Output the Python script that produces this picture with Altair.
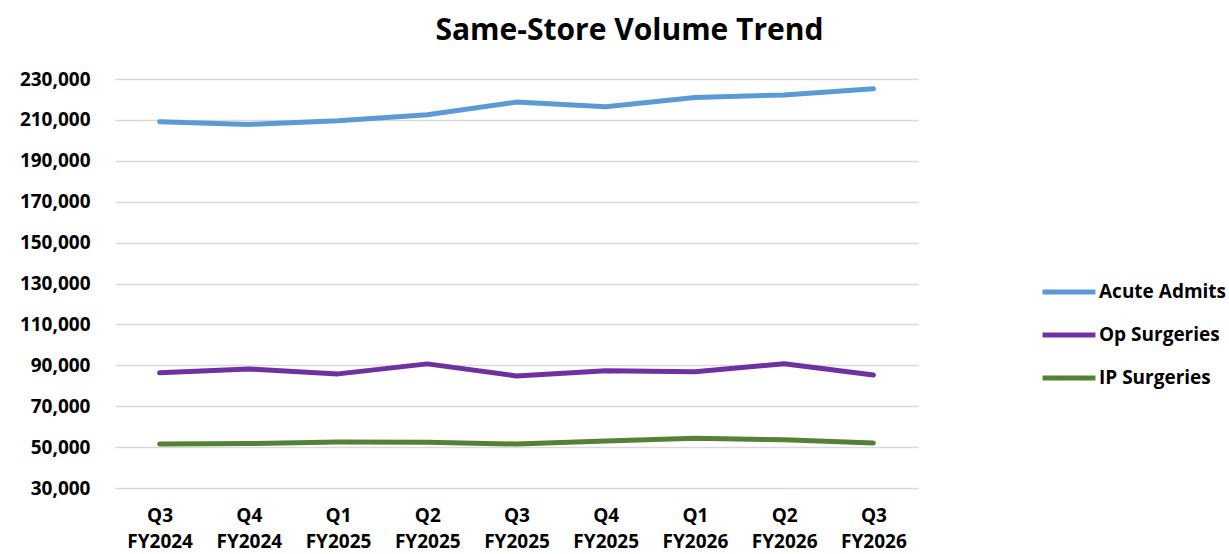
import altair as alt
import pandas as pd

quarters = ["Q3\nFY2024", "Q4\nFY2024", "Q1\nFY2025", "Q2\nFY2025", "Q3\nFY2025",
            "Q4\nFY2025", "Q1\nFY2026", "Q2\nFY2026", "Q3\nFY2026"]
acute_admits = [209100, 207800, 209600, 212500, 218700, 216400, 220900, 222200, 225200]
op_surgeries = [86300, 88200, 85800, 90700, 84800, 87300, 86800, 90800, 85300]
ip_surgeries = [51500, 51700, 52500, 52400, 51500, 53000, 54300, 53600, 52000]
series_names = ["Acute Admits", "Op Surgeries", "IP Surgeries"]
series_colors = ["#5B9BD5", "#7030A0", "#548235"]
y_ticks = [30000, 50000, 70000, 90000, 110000, 130000, 150000, 170000, 190000, 210000, 230000]

rows = []
for name, vals in zip(series_names, [acute_admits, op_surgeries, ip_surgeries]):
    for q, v in zip(quarters, vals):
        rows.append({"Quarter": q, "Series": name, "Value": v})
df = pd.DataFrame(rows)

FONT = "Open Sans"

chart = alt.Chart(df).mark_line(strokeWidth=5, strokeCap="round", strokeJoin="round").encode(
    x=alt.X("Quarter:N", sort=quarters, title=None,
            scale=alt.Scale(type="point", padding=0.5),
            axis=alt.Axis(labelAngle=0, labelExpr="split(datum.label, '\\n')",
                          labelFontSize=19, labelFontWeight="bold", labelFont=FONT,
                          labelColor="#000000", labelPadding=18, labelLineHeight=26,
                          domain=False, ticks=False, grid=False, labelBaseline="top")),
    y=alt.Y("Value:Q", title=None,
            scale=alt.Scale(domain=[30000, 230000], nice=False, zero=False),
            axis=alt.Axis(values=y_ticks, format=",d", labelFontSize=19,
                          labelFontWeight="bold", labelFont=FONT, labelColor="#000000",
                          labelPadding=25, domain=False, ticks=False,
                          gridColor="#d9d9d9", gridWidth=1.5)),
    color=alt.Color("Series:N", sort=series_names,
                    scale=alt.Scale(domain=series_names, range=series_colors),
                    legend=alt.Legend(title=None, orient="none", legendX=925, legendY=184,
                                      symbolType="stroke", symbolSize=2800,
                                      symbolStrokeWidth=5, labelFontSize=19,
                                      labelFontWeight="bold", labelFont=FONT,
                                      labelColor="#000000", rowPadding=4,
                                      labelOffset=1)),
).properties(
    width=803, height=409,
    title=alt.TitleParams("Same-Store Volume Trend", fontSize=30, font=FONT,
                          fontWeight="bold", color="#000000", anchor="middle",
                          frame="group", dx=113, offset=24),
    autosize=alt.AutoSizeParams(type="none"),
    padding={"left": 115, "top": 79, "right": 311, "bottom": 66},
).configure_view(stroke=None)

chart.save("out.html", embed_options={"renderer": "svg", "actions": False})
